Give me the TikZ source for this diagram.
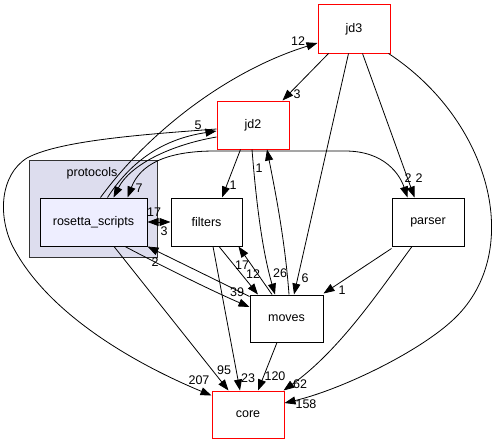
\documentclass[tikz,border=0pt]{standalone}
\usepackage{fontspec}
\setmainfont{Liberation Sans}
\usetikzlibrary{arrows.meta}
\definecolor{clusterfill}{HTML}{DDDDEE}
\definecolor{focusfill}{HTML}{EEEEFF}
\definecolor{clusterline}{HTML}{333333}
\begin{document}
\begin{tikzpicture}[x=1pt,y=-1pt,
  dirnode/.style={draw=black, line width=1pt, fill=white, minimum height=48pt, inner sep=0pt, font=\fontsize{12.5}{14}\selectfont},
  reddir/.style={dirnode, draw=red},
  dep/.style={line width=0.8pt, -{Triangle[length=11pt,width=8pt]}},
  depboth/.style={line width=0.8pt, {Triangle[length=11pt,width=8pt]}-{Triangle[length=11pt,width=8pt]}},
  lbl/.style={font=\fontsize{12.5}{14}\selectfont, inner sep=0pt},
]
\useasboundingbox (0,0) rectangle (494,444);

% cluster
\node[draw=clusterline, line width=1pt, fill=clusterfill, minimum width=128pt, minimum height=97pt, inner sep=0pt] (protocols) at (93,208.5) {};
\node[lbl] (protocolslbl) at (92,173) {protocols};

% nodes
\node[reddir, minimum width=72pt] (jd3) at (354,29) {jd3};
\node[reddir, minimum width=72pt] (jd2) at (253,125) {jd2};
\node[dirnode, fill=focusfill, minimum width=107pt] (rosetta) at (93.5,222) {rosetta\_scripts};
\node[dirnode, minimum width=71pt] (filters) at (206.5,222) {filters};
\node[dirnode, minimum width=72pt] (parser) at (428,222) {parser};
\node[dirnode, minimum width=73pt, minimum height=47pt] (moves) at (286.5,318.5) {moves};
\node[reddir, minimum width=72pt, minimum height=47pt] (core) at (248,414.5) {core};

% edges from jd3
\draw[dep] ([xshift=11pt]jd3.south west) -- ([xshift=-7pt]jd2.north east);
\draw[dep] ([xshift=31pt]jd3.south west) -- ([xshift=7.5pt]moves.north);
\draw[dep] ([xshift=45pt]jd3.south west) -- ([xshift=23pt]parser.north west);
\draw[dep] ([xshift=-2pt]jd3.south east) .. controls (490,120) and (525,250) .. (455,318)
  .. controls (420,352) and (340,390) .. ([yshift=11.5pt]core.east);

% edges at rosetta top
\draw[dep] ([xshift=61pt]rosetta.north west) .. controls (150,130) and (230,70) .. ([yshift=-14pt]jd3.west);
\draw[dep] ([xshift=68pt]rosetta.north west) .. controls (135,155) and (170,138) .. ([yshift=-6pt]jd2.west);
\draw[dep] ([yshift=-12pt]jd2.west) .. controls (170,145) and (130,165) .. ([xshift=74pt]rosetta.north west);
\draw[depboth] ([xshift=88pt]rosetta.north west) .. controls (140,165) and (165,151) .. (215,151)
  -- (345,151) .. controls (385,151) and (400,175) .. ([xshift=16pt]parser.north west);

% jd2 edges
\draw[dep] ([xshift=24pt]jd2.south west) -- ([xshift=15.5pt]filters.north);
\draw[dep] ([xshift=-1pt]jd2.south) .. controls (256,200) and (262,250) .. ([xshift=-11.5pt]moves.north);
\draw[dep] ([xshift=2.5pt]moves.north) .. controls (285,240) and (275,190) .. ([xshift=14pt]jd2.south);
\draw[dep] ([yshift=-4pt]jd2.west) .. controls (150,134) and (60,140) .. (27,158)
  .. controls (0,175) and (-2,215) .. (12,245)
  .. controls (50,320) and (150,370) .. ([yshift=-5pt]core.north west);

% filters edges
\draw[depboth] (filters.west) -- (rosetta.east);
\draw[dep] ([xshift=12.5pt]filters.south) -- ([xshift=-28.5pt]moves.north);
\draw[dep] ([xshift=-14.5pt]moves.north) -- ([xshift=-4pt]filters.south east);
\draw[dep] ([xshift=6.5pt]filters.south) -- ([xshift=-8pt]core.north);

% rosetta bottom edges
\draw[dep] ([xshift=31.5pt]rosetta.south) .. controls (160,265) and (210,290) .. ([yshift=11.5pt]moves.west);
\draw[dep] ([yshift=-2pt]moves.north west) -- (rosetta.south east);
\draw[dep] ([xshift=20.5pt]rosetta.south) -- ([xshift=17pt]core.north west);

% moves and parser edges
\draw[dep] ([xshift=-9.5pt]moves.south) -- ([xshift=10pt]core.north);
\draw[dep] ([yshift=-2pt]parser.south west) -- ([yshift=1pt]moves.north east);
\draw[dep] ([xshift=-16pt]parser.south) .. controls (380,290) and (340,350) .. ([xshift=-1pt]core.north east);

% labels
\node[lbl] (l3) at (297,94) {3};
\node[lbl] (l6) at (305,278) {6};
\node[lbl] (l2a) at (408,178) {2};
\node[lbl] (l2b) at (419,178) {2};
\node[lbl] (l158) at (306,404) {158};
\node[lbl] (l12) at (298,41) {12};
\node[lbl] (l5) at (198,125) {5};
\node[lbl] (l7) at (139,188) {7};
\node[lbl] (l1a) at (233,185) {1};
\node[lbl] (l26) at (280,273) {26};
\node[lbl] (l1b) at (259,168) {1};
\node[lbl] (l17a) at (154,212) {17};
\node[lbl] (l3b) at (164,231) {3};
\node[lbl] (l12b) at (253,274) {12};
\node[lbl] (l17b) at (242,265) {17};
\node[lbl] (l23) at (248,378) {23};
\node[lbl] (l39) at (237,292) {39};
\node[lbl] (l2c) at (155,262) {2};
\node[lbl] (l95) at (224,370) {95};
\node[lbl] (l207) at (199,380) {207};
\node[lbl] (l120) at (275,376) {120};
\node[lbl] (l1c) at (342,290) {1};
\node[lbl] (l62) at (300,384) {62};
\end{tikzpicture}
\end{document}
